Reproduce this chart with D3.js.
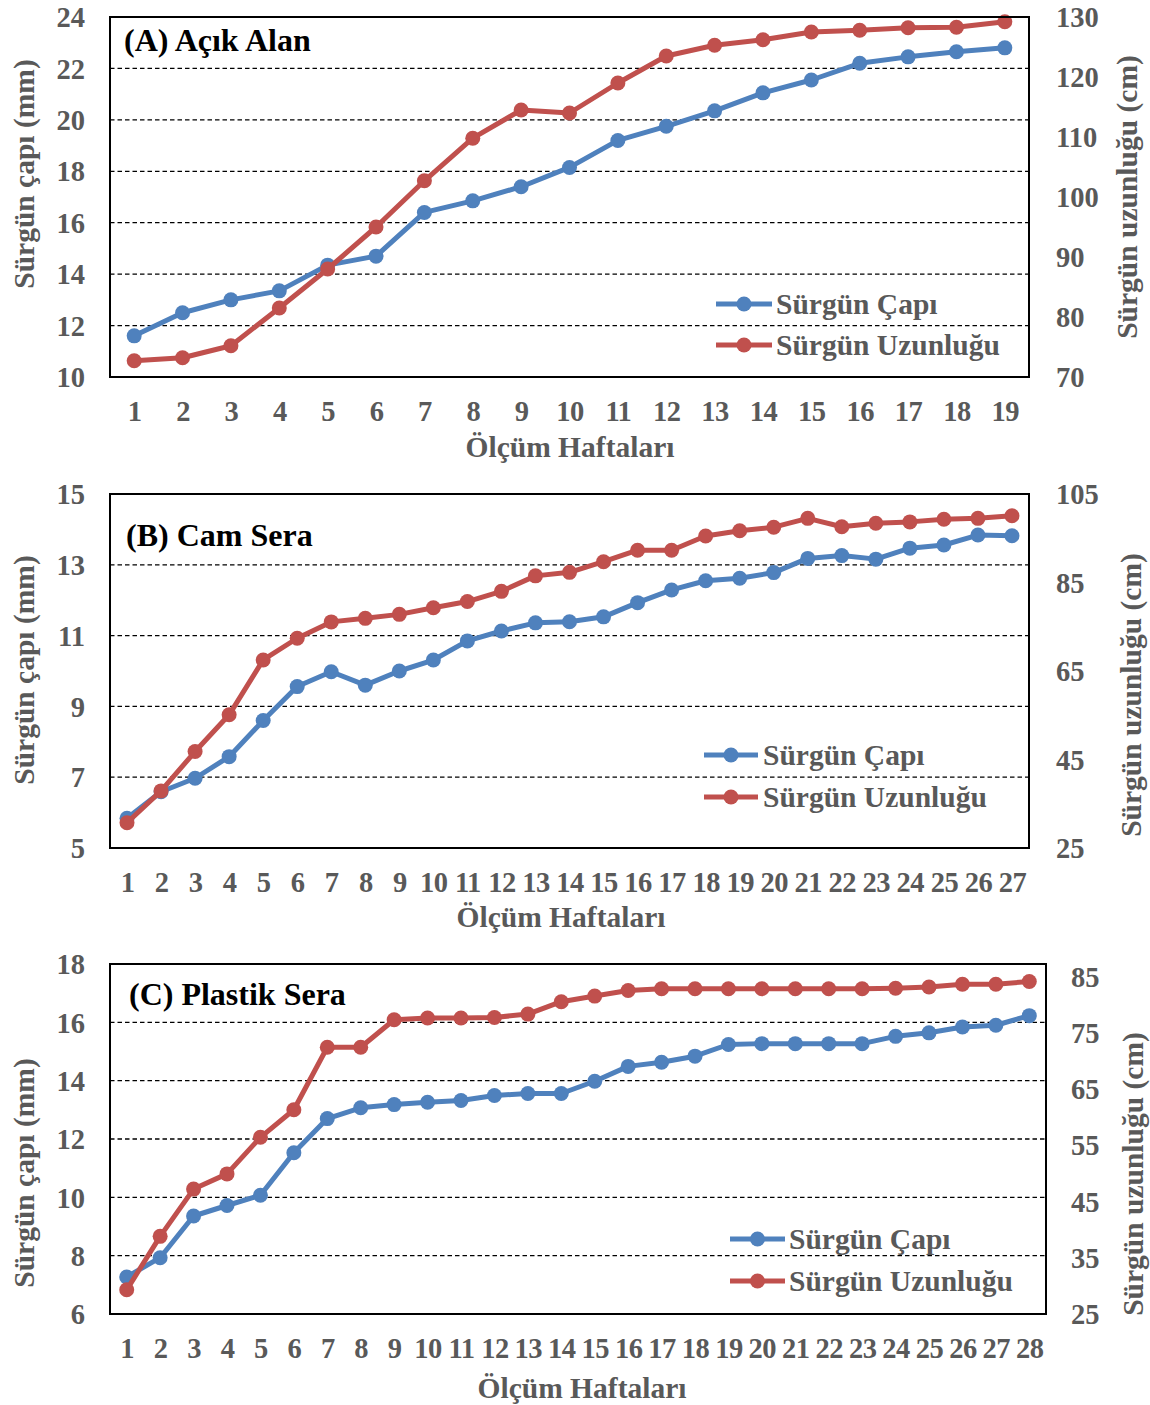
<!DOCTYPE html>
<html><head><meta charset="utf-8">
<script src="https://cdn.jsdelivr.net/npm/d3@7/dist/d3.min.js"></script>
<style>body{margin:0;background:#fff}svg{display:block}</style>
</head><body><svg id="c" width="1150" height="1405"></svg>
<script>
// ---- data ----
const weeksA = [1,2,3,4,5,6,7,8,9,10,11,12,13,14,15,16,17,18,19];
const capA = [11.6,12.5,13.0,13.35,14.35,14.7,16.4,16.85,17.4,18.15,19.2,19.75,20.35,21.05,21.55,22.2,22.45,22.65,22.8];
const uzunA = [72.7,73.2,75.2,81.5,88.0,95.0,102.7,109.8,114.5,114.0,119.0,123.5,125.3,126.2,127.5,127.8,128.2,128.3,129.2];
const leftTicksA = [10,12,14,16,18,20,22,24];
const rightTicksA = [70,80,90,100,110,120,130];

const weeksB = [1,2,3,4,5,6,7,8,9,10,11,12,13,14,15,16,17,18,19,20,21,22,23,24,25,26,27];
const capB = [5.84,6.59,6.97,7.58,8.6,9.56,9.98,9.6,10.0,10.31,10.85,11.13,11.36,11.39,11.53,11.93,12.29,12.55,12.62,12.78,13.18,13.26,13.16,13.47,13.56,13.84,13.82];
const uzunB = [30.7,37.9,46.8,55.1,67.5,72.4,76.1,76.9,77.8,79.3,80.7,83.0,86.5,87.3,89.7,92.3,92.3,95.5,96.7,97.5,99.5,97.6,98.4,98.7,99.3,99.5,100.1];
const leftTicksB = [5,7,9,11,13,15];
const rightTicksB = [25,45,65,85,105];

const weeksC = [1,2,3,4,5,6,7,8,9,10,11,12,13,14,15,16,17,18,19,20,21,22,23,24,25,26,27,28];
const capC = [7.27,7.93,9.36,9.72,10.07,11.53,12.7,13.07,13.18,13.26,13.32,13.49,13.56,13.56,13.98,14.49,14.63,14.84,15.24,15.27,15.27,15.27,15.27,15.52,15.64,15.84,15.9,16.23];
const uzunC = [29.3,38.8,47.2,49.9,56.4,61.3,72.4,72.4,77.3,77.6,77.6,77.7,78.3,80.5,81.5,82.5,82.8,82.8,82.8,82.8,82.8,82.8,82.8,82.9,83.1,83.6,83.6,84.1];
const leftTicksC = [6,8,10,12,14,16,18];
const rightTicksC = [25,35,45,55,65,75,85];

const titles = ["(A) Açık Alan","(B) Cam Sera","(C) Plastik Sera"];
const seriesNames = ["Sürgün Çapı","Sürgün Uzunluğu"];
const xTitle = "Ölçüm Haftaları";
const yLeftTitle = "Sürgün çapı (mm)";
const yRightTitle = "Sürgün uzunluğu (cm)";

// ---- style ----
const BLUE = "#4F81BD", RED = "#C0504D", GRAY = "#595959";
const FONT = "'Liberation Serif','Times New Roman',serif";
const TICK = 28.5, LAB = 29.5;
const svg = d3.select("#c");

const panels = [
  {weeks:weeksA, cap:capA, uzun:uzunA, lt:leftTicksA, rt:rightTicksA, ld:[10,24], rd:[70,130],
   x0:110, x1:1029, y0:17, y1:377, title:titles[0], tx:124, ty:51, xtX:570, xtDy:80,
   lg:{x0:716, x1:772, y:304, dy:41, tx:776}, rlx:1056, ltY:174, rtY:197, rtX:1127},
  {weeks:weeksB, cap:capB, uzun:uzunB, lt:leftTicksB, rt:rightTicksB, ld:[5,15], rd:[25,105],
   x0:110, x1:1029, y0:494, y1:848, title:titles[1], tx:126, ty:546, xtX:561, xtDy:79,
   lg:{x0:704, x1:758, y:755, dy:42, tx:763}, rlx:1056, ltY:670, rtY:695, rtX:1131},
  {weeks:weeksC, cap:capC, uzun:uzunC, lt:leftTicksC, rt:rightTicksC, ld:[6,18], rd:[25,87.2],
   x0:110, x1:1046, y0:964, y1:1314, title:titles[2], tx:129, ty:1005, xtX:582, xtDy:84,
   lg:{x0:730, x1:785, y:1239, dy:42, tx:789}, rlx:1071, ltY:1173, rtY:1174, rtX:1133}
];

panels.forEach(p => {
  const g = svg.append("g");
  const x = d3.scalePoint().domain(p.weeks).range([p.x0, p.x1]).padding(0.5);
  const yL = d3.scaleLinear().domain(p.ld).range([p.y1, p.y0]);
  const yR = d3.scaleLinear().domain(p.rd).range([p.y1, p.y0]);

  // gridlines
  g.append("g").selectAll("line").data(p.lt.slice(1, -1)).join("line")
    .attr("x1", p.x0).attr("x2", p.x1)
    .attr("y1", d => yL(d)).attr("y2", d => yL(d))
    .attr("stroke", "#000").attr("stroke-width", 1.3).attr("stroke-dasharray", "4.5,3");

  // left axis
  const axL = d3.axisLeft(yL).tickValues(p.lt).tickSize(0).tickPadding(25);
  const gL = g.append("g").attr("transform", `translate(${p.x0},0)`).call(axL);
  gL.select(".domain").remove();
  gL.selectAll("text").attr("font-family", FONT).attr("font-weight", "bold")
    .attr("font-size", TICK).attr("fill", GRAY).attr("dy", "0.34em");

  // right axis
  const axR = d3.axisRight(yR).tickValues(p.rt).tickSize(0).tickPadding(p.rlx - p.x1);
  const gR = g.append("g").attr("transform", `translate(${p.x1},0)`).call(axR);
  gR.select(".domain").remove();
  gR.selectAll("text").attr("font-family", FONT).attr("font-weight", "bold")
    .attr("font-size", TICK).attr("fill", GRAY).attr("dy", "0.34em");

  // bottom axis
  const axB = d3.axisBottom(x).tickSize(0).tickPadding(24);
  const gB = g.append("g").attr("transform", `translate(0,${p.y1})`).call(axB);
  gB.select(".domain").remove();
  gB.selectAll("text").attr("font-family", FONT).attr("font-weight", "bold")
    .attr("font-size", TICK).attr("fill", GRAY).attr("letter-spacing", "-0.5px");

  // axis titles
  g.append("text").attr("x", p.xtX).attr("y", p.y1 + p.xtDy)
    .attr("text-anchor", "middle").attr("font-family", FONT).attr("font-weight", "bold")
    .attr("font-size", LAB).attr("fill", GRAY).text(xTitle);
  g.append("text").attr("transform", `translate(34,${p.ltY}) rotate(-90)`)
    .attr("text-anchor", "middle").attr("font-family", FONT).attr("font-weight", "bold")
    .attr("font-size", LAB).attr("fill", GRAY).text(yLeftTitle);
  g.append("text").attr("transform", `translate(${p.rtX + 10},${p.rtY}) rotate(-90)`)
    .attr("text-anchor", "middle").attr("font-family", FONT).attr("font-weight", "bold")
    .attr("font-size", LAB).attr("fill", GRAY).text(yRightTitle);

  // series
  const series = [
    {vals: p.cap, y: yL, color: BLUE},
    {vals: p.uzun, y: yR, color: RED}
  ];
  series.forEach(s => {
    const line = d3.line().x((d, i) => x(p.weeks[i])).y(d => s.y(d));
    g.append("path").datum(s.vals).attr("d", line).attr("fill", "none")
      .attr("stroke", s.color).attr("stroke-width", 5).attr("stroke-linejoin", "round");
    g.append("g").selectAll("circle").data(s.vals).join("circle")
      .attr("cx", (d, i) => x(p.weeks[i])).attr("cy", d => s.y(d)).attr("r", 7.5)
      .attr("fill", s.color);
  });

  // frame
  g.append("rect").attr("x", p.x0).attr("y", p.y0).attr("width", p.x1 - p.x0)
    .attr("height", p.y1 - p.y0).attr("fill", "none").attr("stroke", "#000").attr("stroke-width", 2);

  // panel title
  g.append("text").attr("x", p.tx).attr("y", p.ty).attr("font-family", FONT)
    .attr("font-weight", "bold").attr("font-size", 32).attr("fill", "#000").text(p.title);

  // legend
  [BLUE, RED].forEach((c, i) => {
    const yy = p.lg.y + i * p.lg.dy;
    g.append("line").attr("x1", p.lg.x0).attr("x2", p.lg.x1).attr("y1", yy).attr("y2", yy)
      .attr("stroke", c).attr("stroke-width", 5);
    g.append("circle").attr("cx", (p.lg.x0 + p.lg.x1) / 2).attr("cy", yy).attr("r", 7.5).attr("fill", c);
    g.append("text").attr("x", p.lg.tx).attr("y", yy).attr("dy", "0.34em")
      .attr("font-family", FONT).attr("font-weight", "bold").attr("font-size", LAB)
      .attr("fill", GRAY).text(seriesNames[i]);
  });
});
</script></body></html>
